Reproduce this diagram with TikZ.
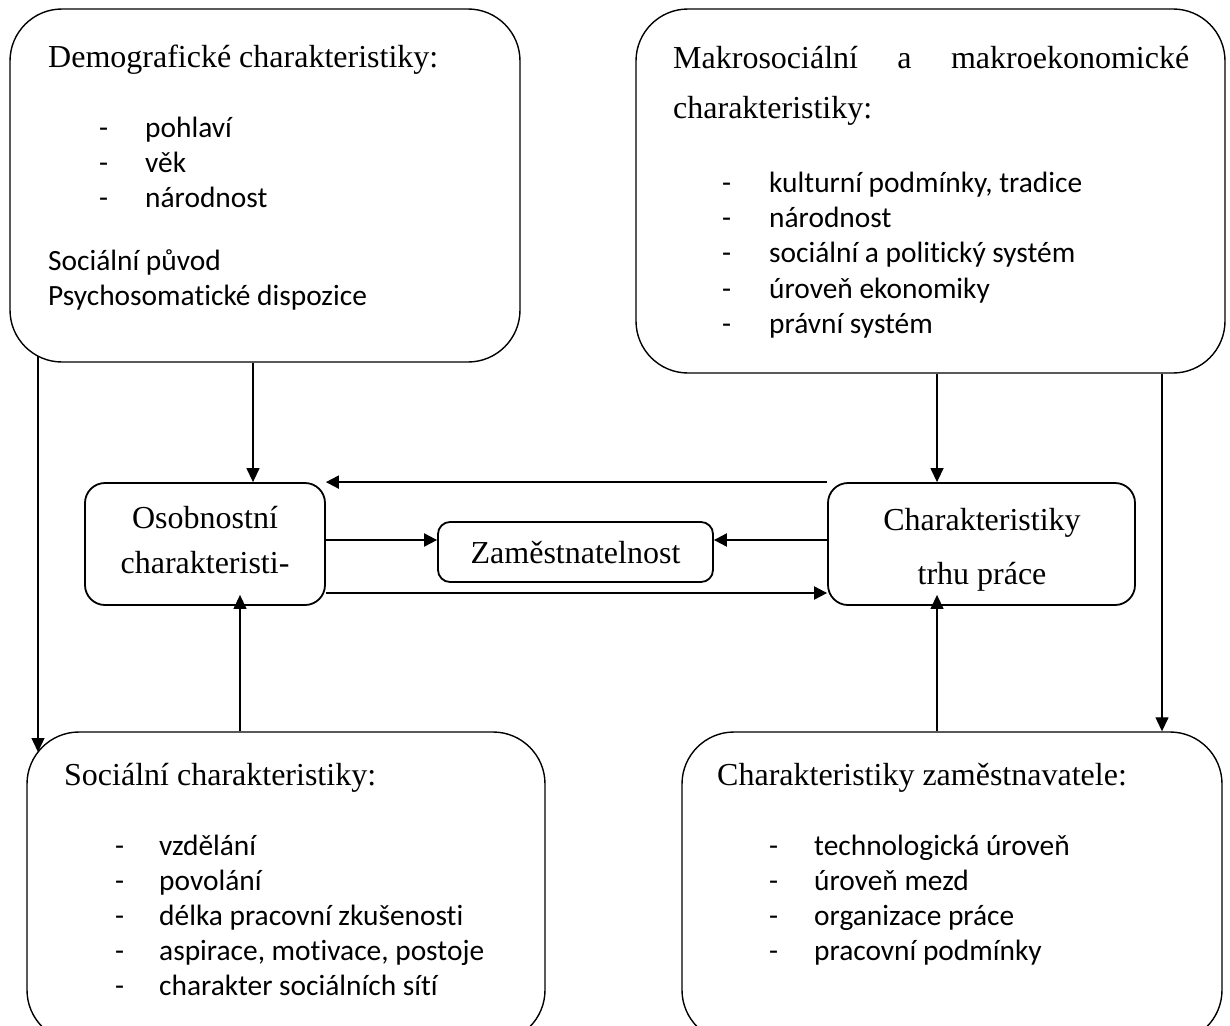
\documentclass[tikz,border=0pt]{standalone}
\usepackage{fontspec}
\newfontfamily\tnr{Liberation Serif}
\newfontfamily\calib[Ligatures={NoCommon,NoRequired,NoContextual}]{Carlito}
\usetikzlibrary{arrows.meta}
\begin{document}
\begin{tikzpicture}[x=1pt,y=-1pt,
 bigbox/.style={draw, line width=1.4pt, rounded corners=52pt, inner sep=0pt},
 midbox/.style={draw, line width=1.8pt, rounded corners=20pt, inner sep=0pt},
 ttl/.style={font=\tnr\fontsize{32}{38}\selectfont, inner sep=0pt, anchor=base west},
 itm/.style={font=\calib\fontsize{29.4}{35}\selectfont, inner sep=0pt, anchor=base west},
 ctr/.style={font=\tnr\fontsize{32}{38}\selectfont, inner sep=0pt, anchor=base},
 outarr/.style={line width=1.3pt, -{Triangle[length=14pt,width=13pt]}},
 midarr/.style={line width=2pt, -{Triangle[length=13pt,width=13pt]}},
]
\useasboundingbox (0,0) rectangle (1230,1025);

% boxes
\node[bigbox, minimum width=510pt, minimum height=353pt] (dem) at (265,185.5) {};
\node[bigbox, minimum width=589pt, minimum height=364pt] (makro) at (930.5,191) {};
\node[bigbox, minimum width=518pt, minimum height=310pt] (soc) at (286,887) {};
\node[bigbox, minimum width=540pt, minimum height=310pt] (emp) at (952,887) {};
\node[midbox, minimum width=240pt, minimum height=122pt] (osob) at (205,544) {};
\node[midbox, rounded corners=12pt, minimum width=275pt, minimum height=60pt] (zam) at (575.5,552) {};
\node[midbox, minimum width=307pt, minimum height=122pt] (trh) at (981.5,544) {};

% texts: demographic
\node[ttl] (demt) at (48,67) {Demografické charakteristiky:};
\node[itm] (demd1) at (99,137) {-};
\node[itm] (demi1) at (145,137) {pohlaví};
\node[itm] (demd2) at (99,172) {-};
\node[itm] (demi2) at (145,172) {věk};
\node[itm] (demd3) at (99,207) {-};
\node[itm] (demi3) at (145,207) {národnost};
\node[itm] (demp1) at (48,270) {Sociální původ};
\node[itm] (demp2) at (48,305) {Psychosomatické dispozice};

% texts: macro
\node[ttl] (mt1) at (673,68) {\hbox to 516pt{Makrosociální\hfill a\hfill makroekonomické}};
\node[ttl] (mt2) at (673,118) {charakteristiky:};
\node[itm] (md1) at (722,192) {-};
\node[itm] (mi1) at (769,192) {kulturní podmínky, tradice};
\node[itm] (md2) at (722,227) {-};
\node[itm] (mi2) at (769,227) {národnost};
\node[itm] (md3) at (722,262) {-};
\node[itm] (mi3) at (769,262) {sociální a politický systém};
\node[itm] (md4) at (722,298) {-};
\node[itm] (mi4) at (769,298) {úroveň ekonomiky};
\node[itm] (md5) at (722,333) {-};
\node[itm] (mi5) at (769,333) {právní systém};

% texts: social
\node[ttl] (st) at (64,785) {Sociální charakteristiky:};
\node[itm] (sd1) at (115,855) {-};
\node[itm] (si1) at (159,855) {vzdělání};
\node[itm] (sd2) at (115,890) {-};
\node[itm] (si2) at (159,890) {povolání};
\node[itm] (sd3) at (115,925) {-};
\node[itm] (si3) at (159,925) {délka pracovní zkušenosti};
\node[itm] (sd4) at (115,960) {-};
\node[itm] (si4) at (159,960) {aspirace, motivace, postoje};
\node[itm] (sd5) at (115,995) {-};
\node[itm] (si5) at (159,995) {charakter sociálních sítí};

% texts: employer
\node[ttl] (et) at (717,785) {Charakteristiky zaměstnavatele:};
\node[itm] (ed1) at (769,855) {-};
\node[itm] (ei1) at (814,855) {technologická úroveň};
\node[itm] (ed2) at (769,890) {-};
\node[itm] (ei2) at (814,890) {úroveň mezd};
\node[itm] (ed3) at (769,925) {-};
\node[itm] (ei3) at (814,925) {organizace práce};
\node[itm] (ed4) at (769,960) {-};
\node[itm] (ei4) at (814,960) {pracovní podmínky};

% texts: middle
\node[ctr] (ot1) at (205,528) {Osobnostní};
\node[ctr] (ot2) at (205,573) {charakteristi-};
\node[ctr] (zt) at (575.5,563) {Zaměstnatelnost};
\node[ctr] (tt1) at (982,530) {Charakteristiky};
\node[ctr] (tt2) at (982,584) {trhu práce};

% helper coordinates
\coordinate (xa) at (253,0);
\coordinate (xb) at (937,0);
\coordinate (xc) at (1162,0);
\coordinate (xd) at (240,0);
\coordinate (ya) at (0,540);
\coordinate (yb) at (0,593);
\coordinate (demout) at (38,356);
\coordinate (socin) at (38,752);

% connectors
\draw[outarr] (dem.south -| xa) -- (osob.north -| xa);
\draw[outarr] (demout) -- (socin);
\draw[outarr] (makro.south -| xb) -- (trh.north -| xb);
\draw[outarr] (makro.south -| xc) -- (emp.north -| xc);
\draw[midarr] (trh.north west) -- (osob.north east |- trh.north west);
\draw[midarr] (osob.east |- ya) -- (zam.west |- ya);
\draw[midarr] (trh.west |- ya) -- (zam.east |- ya);
\draw[midarr] (osob.east |- yb) -- (trh.west |- yb);
\draw[outarr, shorten >=-11pt] (soc.north -| xd) -- (osob.south -| xd);
\draw[outarr, shorten >=-11pt] (emp.north -| xb) -- (trh.south -| xb);
\end{tikzpicture}
\end{document}
